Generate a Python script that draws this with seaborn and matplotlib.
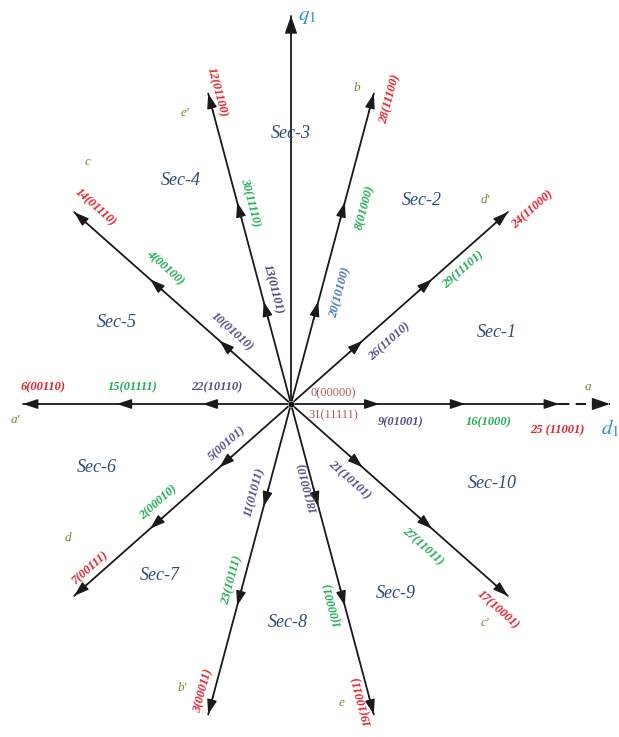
import numpy as np
import pandas as pd
import matplotlib
matplotlib.use("Agg")
import matplotlib.pyplot as plt
import seaborn as sns


# -------------------------
# DATA
# -------------------------
ray_angles = [0, 36, 72, 108, 144, 180, 216, 252, 288, 324]
small_labels = ["9(01001)", "26(11010)", "20(10100)", "13(01101)", "10(01010)",
                "22(10110)", "5(00101)", "11(01011)", "18(10010)", "21(10101)"]
medium_labels = ["16(1000)", "29(11101)", "8(01000)", "30(11110)", "4(00100)",
                 "15(01111)", "2(00010)", "23(10111)", "1(00001)", "27(11011)"]
large_labels = ["25 (11001)", "24(11000)", "28(11100)", "12(01100)", "14(01110)",
                "6(00110)", "7(00111)", "3(00011)", "19(10011)", "17(10001)"]
small_mag = 0.33
medium_mag = 0.65
large_mag = 1.0
axis_len = 1.19
null_labels = ["0(00000)", "31(11111)"]
phase_letters = ["a", "d'", "b", "e'", "c", "a'", "d", "b'", "e", "c'"]
sector_labels = ["Sec-1", "Sec-2", "Sec-3", "Sec-4", "Sec-5",
                 "Sec-6", "Sec-7", "Sec-8", "Sec-9", "Sec-10"]

# -------------------------
# LAYOUT
# -------------------------
# text angle (data degrees) for the labels of each ray
text_angles = [0, 36, 72, -72, -36, 0, 36, 72, 108, -36]
# label offsets in pixels from the arrow tip
small_off = [(21, -18), (27, -1), (22, 9), (9, 12), (13, 9),
             (14, 17), (8, 24), (-9, 14), (-10, 19), (-13, -13)]
medium_off = [(23, -18), (31, 9), (20, -5), (13, 0), (15, 11),
              (16, 17), (8, 26), (-5, 26), (-12, 1), (-9, -18)]
large_off = [(-2, -26), (25, 2), (16, -6), (9, 1), (21, 5),
             (20, 17), (16, 28), (-5, 24), (-11, 14), (-10, -14)]
small_colors = ["#5b4c86", "#5b4c86", "#4a78b5", "#45457a", "#5b4c86",
                "#5b4c86", "#5b4c86", "#5b4c86", "#5b4c86", "#5b4c86"]
letter_pos = [(1.108, 0.052), (0.724, 0.625), (0.246, 0.968), (-0.396, 0.892),
              (-0.761, 0.741), (-1.030, -0.049), (-0.832, -0.411), (-0.407, -0.870),
              (0.190, -0.916), (0.724, -0.671)]
sector_pos = [(0.80, 16), (0.79, 52), (0.83, 90), (0.80, 121), (0.695, 159),
              (0.75, 195), (0.72, 227), (0.67, 269), (0.70, 304), (0.79, 342)]

LINE = "#1a1a1a"
RED = "#e8202a"
GREEN = "#1fae55"
OLIVE = "#6b8a2a"
SECBLUE = "#2c4c7c"
AXBLUE = "#2b8fd6"
NULLC = "#b45a5a"
SERIF = "Liberation Serif"


def unit(a):
    r = np.radians(a)
    return np.cos(r), np.sin(r)


def head(ax, ang, r, big=False):
    c, s = unit(ang)
    style = "-|>,head_length=1.1,head_width=0.38" if big else "-|>,head_length=0.9,head_width=0.3"
    ax.annotate("", xy=(r * c, r * s), xytext=((r - 0.06) * c, (r - 0.06) * s),
                arrowprops=dict(arrowstyle=style, color=LINE, lw=1.0,
                                shrinkA=0, shrinkB=0))


def screen_angle(ax, a):
    c, s = unit(a)
    p0 = ax.transData.transform((0, 0))
    p1 = ax.transData.transform((c, s))
    return np.degrees(np.arctan2(p1[1] - p0[1], p1[0] - p0[0]))


# -------------------------
# PLOT
# -------------------------
sns.set_style("white")
fig = plt.figure(figsize=(6.19, 7.37), dpi=100)
ax = fig.add_axes([0, 0, 1, 1])

rows = []
for i, a in enumerate(ray_angles):
    c, s = unit(a)
    rows.append({"ray": i, "x": 0.0, "y": 0.0})
    rows.append({"ray": i, "x": large_mag * c, "y": large_mag * s})
rows.append({"ray": 10, "x": 0.0, "y": 0.0})
rows.append({"ray": 10, "x": 0.0, "y": axis_len})
df = pd.DataFrame(rows)

sns.lineplot(data=df, x="x", y="y", units="ray", estimator=None, sort=False,
             color=LINE, lw=1.3, legend=False, ax=ax)
sns.lineplot(x=[large_mag, axis_len], y=[0, 0], color=LINE, lw=1.5,
             linestyle=(0, (5, 3)), ax=ax)
sns.scatterplot(x=[0], y=[0], color="black", s=22, zorder=5, ax=ax)

ax.set_xlim(-291 / 268, 328 / 268)
ax.set_ylim(-333 / 326.4, 404 / 326.4)
ax.axis("off")

for i, a in enumerate(ray_angles):
    for m in (small_mag, medium_mag, large_mag):
        head(ax, a, m)
head(ax, 0, axis_len, big=True)
head(ax, 90, axis_len, big=True)

for i, a in enumerate(ray_angles):
    c, s = unit(a)
    rot = screen_angle(ax, text_angles[i])
    groups = [(small_mag, small_labels[i], small_off[i], small_colors[i]),
              (medium_mag, medium_labels[i], medium_off[i], GREEN),
              (large_mag, large_labels[i], large_off[i], RED)]
    for m, txt, off, col in groups:
        ax.annotate(txt, xy=(m * c, m * s), xytext=off, textcoords="offset pixels",
                    ha="center", va="center", rotation=rot, rotation_mode="anchor",
                    fontsize=9, family=SERIF, style="italic", weight="bold",
                    color=col)
    ax.text(letter_pos[i][0], letter_pos[i][1], phase_letters[i], ha="center",
            va="center", fontsize=9.5, family=SERIF, style="italic", color=OLIVE)

ax.annotate(null_labels[0], xy=(0, 0), xytext=(42, 11), textcoords="offset pixels",
            ha="center", va="center", fontsize=9, family=SERIF, color=NULLC)
ax.annotate(null_labels[1], xy=(0, 0), xytext=(42, -11), textcoords="offset pixels",
            ha="center", va="center", fontsize=9, family=SERIF, color=NULLC)

for txt, (r, a) in zip(sector_labels, sector_pos):
    c, s = unit(a)
    ax.text(r * c, r * s, txt, ha="center", va="center", fontsize=13,
            family=SERIF, style="italic", color=SECBLUE)

plt.rcParams["mathtext.fontset"] = "stix"
ax.annotate(r"$\mathit{q}_{1}$", xy=(0, axis_len), xytext=(16, 0),
            textcoords="offset pixels", ha="center", va="center",
            fontsize=15, color=AXBLUE, weight="bold")
ax.annotate(r"$\mathit{d}_{1}$", xy=(axis_len, 0), xytext=(0, -24),
            textcoords="offset pixels", ha="center", va="center",
            fontsize=15, color=AXBLUE, weight="bold")

fig.savefig("out.png", dpi=100)
